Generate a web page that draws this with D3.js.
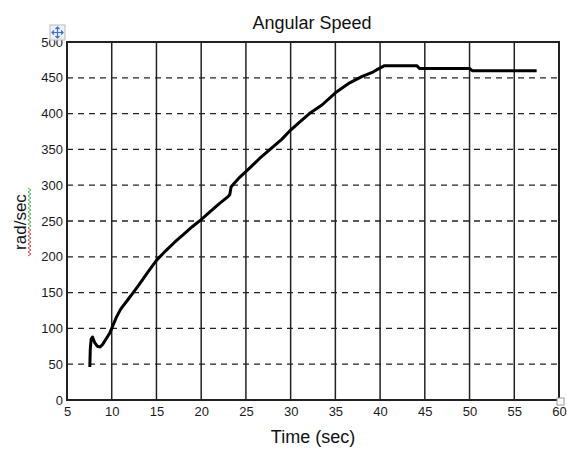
<!DOCTYPE html>
<html><head><meta charset="utf-8">
<script src="https://cdn.jsdelivr.net/npm/d3@7"></script>
<style>body{margin:0;background:#fff}svg{display:block;font-family:"Liberation Sans",Arial,sans-serif}</style>
</head><body>
<svg id="c" width="567" height="450"></svg>
<script>
const title = "Angular Speed";
const xLabel = "Time (sec)";
const yLabel = "rad/sec";
const xTicks = [5,10,15,20,25,30,35,40,45,50,55,60];
const yTicks = [0,50,100,150,200,250,300,350,400,450,500];
const time  = [7.55,7.6,7.7,7.85,8.1,8.4,8.7,9.0,9.4,9.8,10.0,10.5,11.0,11.8,12.4,13.0,14.0,15.0,16.0,17.0,18.0,19.0,20.0,21.0,22.0,23.0,23.2,23.35,24.0,24.3,25.5,26.5,27.7,29.0,30.0,31.0,32.1,33.5,35.0,36.6,38.0,39.2,39.6,40.5,44.1,44.4,50.0,50.3,57.5];
const speed = [46,70,85,88,80,75,74,78,86,94,100,115,127,140,150,160,178,195,208,220,231,242,252,263,274,284,287,298,307,311,325,337,350,364,377,388,400,412,429,443,452,458,461,467,467,463,463,460,460];

const svg = d3.select("#c");
const L=67,R=559,T=42,B=400;
const x = d3.scaleLinear().domain([5,60]).range([L,R]);
const y = d3.scaleLinear().domain([0,500]).range([B,T]);

// horizontal dashed grid
svg.append("g").selectAll("line").data(yTicks.filter(v=>v>0&&v<500)).join("line")
  .attr("x1",L).attr("x2",R).attr("y1",d=>y(d)).attr("y2",d=>y(d))
  .attr("stroke","#222").attr("stroke-width",1.3).attr("stroke-dasharray","6,5");
// vertical solid grid
svg.append("g").selectAll("line").data(xTicks.filter(v=>v>5&&v<60)).join("line")
  .attr("y1",T).attr("y2",B).attr("x1",d=>x(d)).attr("x2",d=>x(d))
  .attr("stroke","#222").attr("stroke-width",1.5);

// axes
const xa = svg.append("g").attr("transform",`translate(0,${B})`)
  .call(d3.axisBottom(x).tickValues(xTicks).tickSize(0).tickPadding(7).tickFormat(d3.format("d")));
const ya = svg.append("g").attr("transform",`translate(${L},0)`)
  .call(d3.axisLeft(y).tickValues(yTicks).tickSize(0).tickPadding(4).tickFormat(d3.format("d")));
[xa,ya].forEach(a=>{a.select(".domain").remove();a.selectAll("text").attr("font-size",13).attr("fill","#1a1a1a").attr("font-family","Liberation Sans, Arial, sans-serif");});

// frame
svg.append("rect").attr("x",L).attr("y",T).attr("width",R-L).attr("height",B-T)
  .attr("fill","none").attr("stroke","#222").attr("stroke-width",2);

// curve
svg.append("path").datum(time.map((t,i)=>[t,speed[i]]))
  .attr("d",d3.line().x(d=>x(d[0])).y(d=>y(d[1])))
  .attr("fill","none").attr("stroke","#000").attr("stroke-width",3).attr("stroke-linejoin","round");

// texts
svg.append("text").attr("x",312).attr("y",29).attr("text-anchor","middle").attr("font-size",18).attr("fill","#111").text(title);
svg.append("text").attr("x",313).attr("y",443).attr("text-anchor","middle").attr("font-size",18).attr("fill","#111").text(xLabel);
svg.append("text").attr("transform","translate(26,222) rotate(-90)").attr("text-anchor","middle").attr("font-size",17).attr("fill","#111").text(yLabel);

// spell-check squiggle
function zig(y0,y1,col){let p=[];let k=0;for(let yy=y0;yy<=y1;yy+=2){p.push([k%2?31:28,yy]);k++;}
  svg.append("path").attr("d",d3.line()(p)).attr("fill","none").attr("stroke",col).attr("stroke-width",0.9);}
zig(188,228,"#3cb043"); zig(228,257,"#e03030");

// move handle icon
const g=svg.append("g").attr("transform","translate(50,25)");
g.append("rect").attr("width",15).attr("height",15).attr("fill","#eef2f8").attr("stroke","#bbb");
g.append("path").attr("d","M7.5 2 V13 M2 7.5 H13 M5.5 4 L7.5 2 L9.5 4 M5.5 11 L7.5 13 L9.5 11 M4 5.5 L2 7.5 L4 9.5 M11 5.5 L13 7.5 L11 9.5")
  .attr("fill","none").attr("stroke","#3b6fd0").attr("stroke-width",1.2);
svg.append("rect").attr("x",557).attr("y",398).attr("width",7).attr("height",7).attr("fill","#fff").attr("stroke","#999");
</script>
</body></html>
